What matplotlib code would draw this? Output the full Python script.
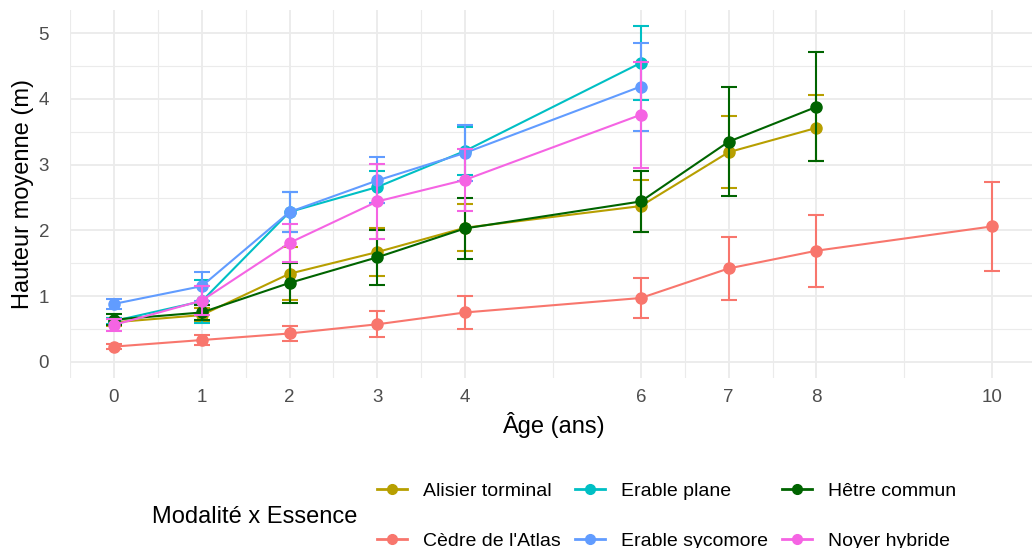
import matplotlib.pyplot as plt
from matplotlib.lines import Line2D
import numpy as np

plt.rcParams['font.family'] = ['Liberation Sans', 'DejaVu Sans']

# mean height (m) and error per species, by age (years)
essences = ["Alisier torminal", "Cèdre de l'Atlas", "Erable plane",
            "Erable sycomore", "Hêtre commun", "Noyer hybride"]
couleurs = ["#B79F00", "#F8766D", "#00BFC4", "#619CFF", "#006400", "#F564E3"]

age_alisier = [0, 1, 2, 3, 4, 6, 7, 8]
h_alisier = [0.60, 0.71, 1.34, 1.67, 2.04, 2.37, 3.19, 3.56]
e_alisier = [0.06, 0.11, 0.40, 0.36, 0.36, 0.40, 0.55, 0.50]

age_cedre = [0, 1, 2, 3, 4, 6, 7, 8, 10]
h_cedre = [0.23, 0.33, 0.43, 0.57, 0.75, 0.97, 1.42, 1.69, 2.06]
e_cedre = [0.04, 0.07, 0.11, 0.20, 0.25, 0.31, 0.48, 0.55, 0.68]

age_plane = [0, 1, 2, 3, 4, 6]
h_plane = [0.62, 0.92, 2.28, 2.66, 3.21, 4.55]
e_plane = [0.05, 0.33, 0.31, 0.25, 0.37, 0.56]

age_syco = [0, 1, 2, 3, 4, 6]
h_syco = [0.88, 1.15, 2.28, 2.76, 3.18, 4.19]
e_syco = [0.08, 0.22, 0.31, 0.35, 0.43, 0.67]

age_hetre = [0, 1, 2, 3, 4, 6, 7, 8]
h_hetre = [0.64, 0.75, 1.20, 1.59, 2.03, 2.44, 3.35, 3.88]
e_hetre = [0.08, 0.12, 0.30, 0.42, 0.47, 0.46, 0.83, 0.83]

age_noyer = [0, 1, 2, 3, 4, 6]
h_noyer = [0.56, 0.93, 1.81, 2.44, 2.77, 3.76]
e_noyer = [0.09, 0.22, 0.29, 0.57, 0.47, 0.81]

x_breaks = [0, 1, 2, 3, 4, 6, 7, 8, 10]
y_breaks = [0, 1, 2, 3, 4, 5]

series = [
    (age_alisier, h_alisier, e_alisier),
    (age_cedre, h_cedre, e_cedre),
    (age_plane, h_plane, e_plane),
    (age_syco, h_syco, e_syco),
    (age_hetre, h_hetre, e_hetre),
    (age_noyer, h_noyer, e_noyer),
]

fig = plt.figure(figsize=(10.32, 5.48), dpi=100)
ax = fig.add_axes([70 / 1032, 170 / 548, 966 / 1032, 368 / 548])

for i, (x, y, e) in enumerate(series):
    ax.errorbar(x, y, yerr=e, color=couleurs[i], lw=1.5, marker='o', ms=8,
                elinewidth=1.5, capsize=6, capthick=1.5, zorder=3 + i)

ax.set_xlim(-0.5, 10.5)
ax.set_ylim(-0.248, 5.355)
ax.set_xticks(x_breaks)
ax.set_yticks(y_breaks)
mx = [(a + b) / 2 for a, b in zip(x_breaks[:-1], x_breaks[1:])] + [-0.5]
ax.set_xticks(mx, minor=True)
ax.set_yticks(np.arange(-0.0, 5.5, 0.5), minor=True)

ax.grid(which='major', color='#EBEBEB', lw=1.3, zorder=0)
ax.grid(which='minor', color='#EBEBEB', lw=0.8, zorder=0)
ax.set_axisbelow(True)
for s in ax.spines.values():
    s.set_visible(False)
ax.tick_params(which='both', length=0)
ax.tick_params(axis='x', labelsize=13.5, labelcolor='#4D4D4D', pad=8)
ax.tick_params(axis='y', labelsize=13.5, labelcolor='#4D4D4D', pad=15)

ax.set_xlabel("Âge (ans)", fontsize=17, labelpad=4)
ax.set_ylabel("Hauteur moyenne (m)", fontsize=17, labelpad=3)

# legend: species in two rows, title on the left
handles = [Line2D([], [], color=c, lw=2, marker='o', ms=7) for c in couleurs]
fig.legend(handles, essences, ncol=3, loc='center left',
           bbox_to_anchor=(377 / 1032, 1 - 516 / 548), frameon=False,
           fontsize=14, handlelength=1.55, handletextpad=0.8,
           columnspacing=0.75, labelspacing=1.68, borderpad=0,
           borderaxespad=0)
fig.text(152 / 1032, 1 - 517 / 548, "Modalité x Essence", fontsize=17,
         va='center', ha='left')

fig.savefig("out.png", dpi=100)
